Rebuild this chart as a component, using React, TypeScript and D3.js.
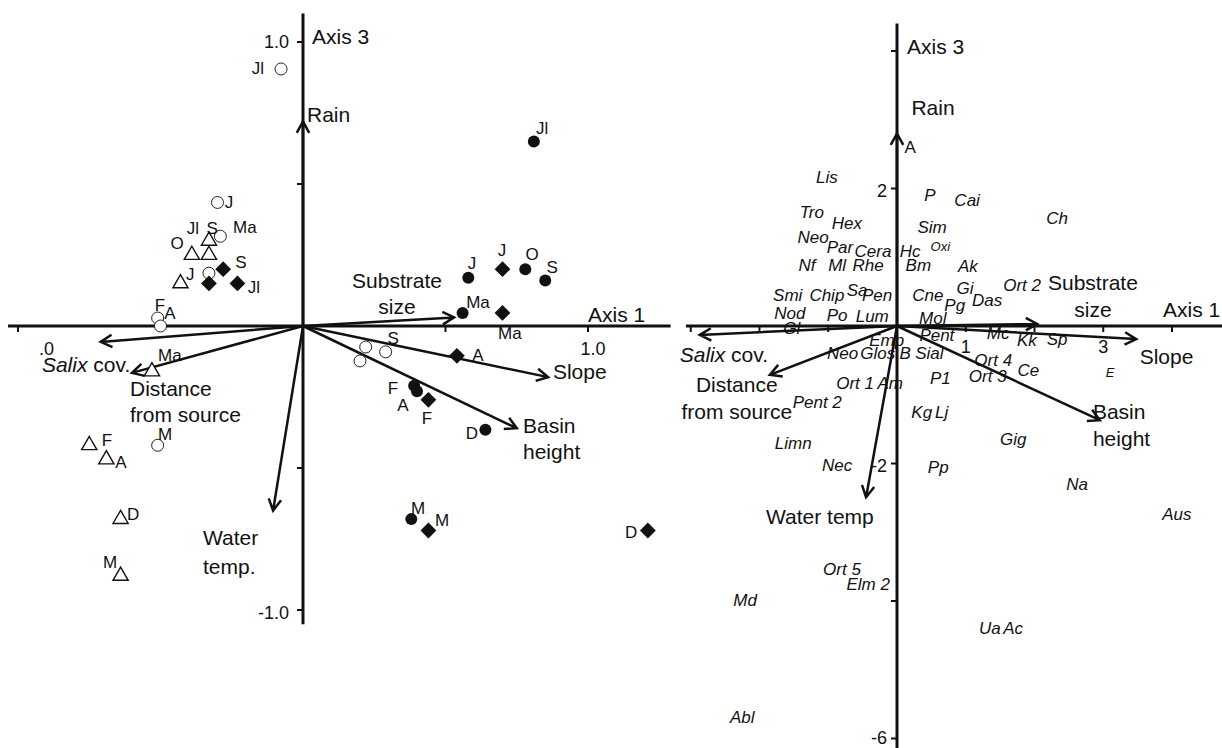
import React from 'react';
import * as d3 from 'd3';

// ---------- LEFT PANEL DATA (sample scores, CCA axis 1 vs axis 3) ----------
const leftOpenCircles = [
  { x: -0.077, y: 0.905 }, { x: -0.30, y: 0.435 }, { x: -0.29, y: 0.316 },
  { x: -0.33, y: 0.186 }, { x: -0.51, y: 0.028 }, { x: -0.50, y: 0.0 },
  { x: -0.51, y: -0.42 }, { x: 0.22, y: -0.074 }, { x: 0.29, y: -0.091 },
  { x: 0.20, y: -0.123 },
];
const leftTriangles = [
  { x: -0.33, y: 0.30 }, { x: -0.39, y: 0.25 }, { x: -0.33, y: 0.25 },
  { x: -0.43, y: 0.15 }, { x: -0.53, y: -0.16 }, { x: -0.75, y: -0.42 },
  { x: -0.69, y: -0.47 }, { x: -0.64, y: -0.68 }, { x: -0.64, y: -0.88 },
];
const leftDiamonds = [
  { x: -0.28, y: 0.20 }, { x: -0.33, y: 0.15 }, { x: -0.23, y: 0.15 },
  { x: 0.70, y: 0.20 }, { x: 0.70, y: 0.046 }, { x: 0.54, y: -0.105 },
  { x: 0.44, y: -0.26 }, { x: 0.44, y: -0.72 }, { x: 1.21, y: -0.72 },
];
const leftFilledCircles = [
  { x: 0.81, y: 0.65 }, { x: 0.58, y: 0.17 }, { x: 0.78, y: 0.20 },
  { x: 0.85, y: 0.16 }, { x: 0.56, y: 0.046 }, { x: 0.39, y: -0.21 },
  { x: 0.40, y: -0.23 }, { x: 0.64, y: -0.365 }, { x: 0.38, y: -0.68 },
];
const leftPointLabels = [
  { t: 'Jl', x: -0.158, y: 0.908 }, { t: 'J', x: -0.26, y: 0.437 },
  { t: 'Ma', x: -0.204, y: 0.349 }, { t: 'Jl', x: -0.386, y: 0.345 },
  { t: 'S', x: -0.319, y: 0.345 }, { t: 'O', x: -0.442, y: 0.292 },
  { t: 'S', x: -0.218, y: 0.225 }, { t: 'J', x: -0.396, y: 0.183 },
  { t: 'Jl', x: -0.172, y: 0.137 }, { t: 'F', x: -0.502, y: 0.074 },
  { t: 'A', x: -0.467, y: 0.046 }, { t: 'Ma', x: -0.467, y: -0.102 },
  { t: 'M', x: -0.484, y: -0.380 }, { t: 'F', x: -0.688, y: -0.401 },
  { t: 'A', x: -0.639, y: -0.479 }, { t: 'D', x: -0.596, y: -0.662 },
  { t: 'M', x: -0.677, y: -0.831 }, { t: 'S', x: 0.316, y: -0.042 },
  { t: 'Jl', x: 0.839, y: 0.697 }, { t: 'J', x: 0.593, y: 0.222 },
  { t: 'J', x: 0.698, y: 0.268 }, { t: 'O', x: 0.804, y: 0.254 },
  { t: 'S', x: 0.874, y: 0.208 }, { t: 'Ma', x: 0.614, y: 0.085 },
  { t: 'Ma', x: 0.726, y: -0.025 }, { t: 'A', x: 0.614, y: -0.102 },
  { t: 'F', x: 0.316, y: -0.218 }, { t: 'A', x: 0.351, y: -0.278 },
  { t: 'F', x: 0.435, y: -0.324 }, { t: 'D', x: 0.593, y: -0.377 },
  { t: 'M', x: 0.404, y: -0.641 }, { t: 'M', x: 0.488, y: -0.683 },
  { t: 'D', x: 1.151, y: -0.725 },
];
const leftArrows = [
  { name: 'Rain', x: 0, y: 0.72 },
  { name: 'Substrate size', x: 0.53, y: 0.03 },
  { name: 'Slope', x: 0.86, y: -0.18 },
  { name: 'Basin height', x: 0.75, y: -0.36 },
  { name: 'Water temp.', x: -0.105, y: -0.65 },
  { name: 'Distance from source', x: -0.60, y: -0.165 },
  { name: 'Salix cov.', x: -0.71, y: -0.056 },
];
const leftArrowLabels = [
  { lines: ['Rain'], x: 0.014, y: 0.743, anchor: 'start' },
  { lines: ['Substrate', 'size'], x: 0.33, y: 0.158, anchor: 'middle' },
  { lines: ['Slope'], x: 0.877, y: -0.162, anchor: 'start' },
  { lines: ['Basin', 'height'], x: 0.772, y: -0.352, anchor: 'start' },
  { lines: ['Water', 'temp.'], x: -0.351, y: -0.746, anchor: 'start' },
  { lines: ['Distance', 'from source'], x: -0.607, y: -0.222, anchor: 'start' },
  { lines: ['SALIX'], x: -0.916, y: -0.137, anchor: 'start' },
];
const leftYTicks = [-1, -0.5, 0.5, 1];
const leftXTicks = [-1, -0.5, 0.5, 1];
const leftYTickLabels = [{ v: 1, t: '1.0' }, { v: -1, t: '-1.0' }];
const leftXTickLabels = [{ v: 1, t: '1.0' }, { v: -0.9, t: '.0' }];

// ---------- RIGHT PANEL DATA (species scores) ----------
const rightSpecies = [
  { t: 'Lis', x: -1.02, y: 2.17 }, { t: 'P', x: 0.48, y: 1.91 },
  { t: 'Cai', x: 1.02, y: 1.83 }, { t: 'Ch', x: 2.33, y: 1.57 },
  { t: 'Tro', x: -1.24, y: 1.66 }, { t: 'Hex', x: -0.73, y: 1.50 },
  { t: 'Sim', x: 0.51, y: 1.44 }, { t: 'Neo', x: -1.22, y: 1.29 },
  { t: 'Par', x: -0.83, y: 1.15 }, { t: 'Cera', x: -0.35, y: 1.09 },
  { t: 'Hc', x: 0.19, y: 1.09 }, { t: 'Oxi', x: 0.63, y: 1.15, small: true },
  { t: 'Nf', x: -1.31, y: 0.89 }, { t: 'Ml', x: -0.87, y: 0.89 },
  { t: 'Rhe', x: -0.42, y: 0.89 }, { t: 'Bm', x: 0.31, y: 0.89 },
  { t: 'Ak', x: 1.03, y: 0.87 }, { t: 'Ort 2', x: 1.82, y: 0.60 },
  { t: 'Smi', x: -1.59, y: 0.45 }, { t: 'Chip', x: -1.02, y: 0.45 },
  { t: 'Sa', x: -0.58, y: 0.52 }, { t: 'Pen', x: -0.29, y: 0.45 },
  { t: 'Cne', x: 0.45, y: 0.45 }, { t: 'Gi', x: 0.99, y: 0.55 },
  { t: 'Das', x: 1.31, y: 0.38 }, { t: 'Pg', x: 0.84, y: 0.31 },
  { t: 'Nod', x: -1.56, y: 0.19 }, { t: 'Po', x: -0.87, y: 0.16 },
  { t: 'Lum', x: -0.36, y: 0.15 }, { t: 'Mol', x: 0.52, y: 0.12 },
  { t: 'Gl', x: -1.53, y: -0.03 }, { t: 'Emp', x: -0.15, y: -0.20 },
  { t: 'Pent', x: 0.58, y: -0.13 }, { t: 'Mc', x: 1.47, y: -0.10 },
  { t: 'Kk', x: 1.89, y: -0.20 }, { t: 'Sp', x: 2.33, y: -0.19 },
  { t: 'Neo', x: -0.79, y: -0.39 }, { t: 'Glos', x: -0.28, y: -0.39 },
  { t: 'B', x: 0.12, y: -0.39 }, { t: 'Sial', x: 0.47, y: -0.39 },
  { t: 'Ort 4', x: 1.40, y: -0.49 }, { t: 'Ce', x: 1.91, y: -0.64 },
  { t: 'Ort 3', x: 1.32, y: -0.73 }, { t: 'E', x: 3.10, y: -0.68, small: true },
  { t: 'Ort 1', x: -0.61, y: -0.83 }, { t: 'Am', x: -0.10, y: -0.83 },
  { t: 'P1', x: 0.63, y: -0.76 }, { t: 'Pent 2', x: -1.16, y: -1.11 },
  { t: 'Kg', x: 0.36, y: -1.25 }, { t: 'Lj', x: 0.65, y: -1.25 },
  { t: 'Gig', x: 1.69, y: -1.64 }, { t: 'Limn', x: -1.51, y: -1.70 },
  { t: 'Nec', x: -0.87, y: -2.02 }, { t: 'Pp', x: 0.60, y: -2.05 },
  { t: 'Na', x: 2.62, y: -2.30 }, { t: 'Aus', x: 4.07, y: -2.73 },
  { t: 'Ort 5', x: -0.80, y: -3.53 }, { t: 'Elm 2', x: -0.42, y: -3.75 },
  { t: 'Md', x: -2.21, y: -3.99 }, { t: 'Ua', x: 1.35, y: -4.39 },
  { t: 'Ac', x: 1.69, y: -4.39 }, { t: 'Abl', x: -2.25, y: -5.69 },
];
const rightSampleLabels = [{ t: 'A', x: 0.19, y: 2.6 }];
const rightArrows = [
  { name: 'Rain', x: 0, y: 2.80 },
  { name: 'Substrate size', x: 2.04, y: 0.03 },
  { name: 'Slope', x: 3.48, y: -0.19 },
  { name: 'Basin height', x: 2.95, y: -1.37 },
  { name: 'Water temp', x: -0.45, y: -2.49 },
  { name: 'Distance from source', x: -1.85, y: -0.71 },
  { name: 'Salix cov.', x: -2.87, y: -0.13 },
];
const rightArrowLabels = [
  { lines: ['Rain'], x: 0.21, y: 3.17, anchor: 'start' },
  { lines: ['Substrate', 'size'], x: 2.85, y: 0.625, anchor: 'middle' },
  { lines: ['Slope'], x: 3.53, y: -0.45, anchor: 'start' },
  { lines: ['Basin', 'height'], x: 2.85, y: -1.25, anchor: 'start' },
  { lines: ['Water temp'], x: -1.905, y: -2.78, anchor: 'start' },
  { lines: ['Distance', 'from source'], x: -2.33, y: -0.86, anchor: 'middle' },
  { lines: ['SALIX'], x: -3.16, y: -0.42, anchor: 'start' },
];
const rightYTicks = [-6, -4, -2, 2, 4];
const rightXTicks = [-3, -2, -1, 1, 2, 3, 4];
const rightYTickLabels = [{ v: 2, t: '2' }, { v: -2, t: '-2' }, { v: -6, t: '-6' }];
const rightXTickLabels = [{ v: 1, t: '1' }, { v: 3, t: '3' }];

const FONT = '"Liberation Sans", Arial, Helvetica, sans-serif';

function arrowPath(x0: number, y0: number, x1: number, y1: number, len = 13, ang = 0.5) {
  const a = Math.atan2(y1 - y0, x1 - x0);
  const h1x = x1 - len * Math.cos(a - ang), h1y = y1 - len * Math.sin(a - ang);
  const h2x = x1 - len * Math.cos(a + ang), h2y = y1 - len * Math.sin(a + ang);
  return `M${x0},${y0}L${x1},${y1}M${h1x},${h1y}L${x1},${y1}L${h2x},${h2y}`;
}

function ArrowLabel({ lab, sx, sy, lh }: any) {
  const isSalix = lab.lines[0] === 'SALIX';
  return (
    <text x={sx(lab.x)} y={sy(lab.y)} fontSize={21} textAnchor={lab.anchor} fill="#111">
      {isSalix ? (
        <>
          <tspan fontStyle="italic" dy="0.35em">Salix</tspan>
          <tspan> cov.</tspan>
        </>
      ) : (
        lab.lines.map((l: string, i: number) => (
          <tspan key={i} x={sx(lab.x)} dy={i === 0 ? '0.35em' : lh}>{l}</tspan>
        ))
      )}
    </text>
  );
}

export default function App() {
  const W = 1222, H = 748;
  const xL = d3.scaleLinear().domain([-1, 1]).range([18, 588]);
  const yL = d3.scaleLinear().domain([-1, 1]).range([610, 42]);
  const xR = d3.scaleLinear().domain([-3, 4]).range([690.75, 1172]);
  const yR = d3.scaleLinear().domain([-6, 4]).range([738.5, 51]);

  const circ = d3.symbol().type(d3.symbolCircle).size(Math.PI * 36)();
  const tri = d3.symbol().type(d3.symbolTriangle).size(100)();
  const dia = d3.symbol().type(d3.symbolSquare).size(125)();

  return (
    <svg width={W} height={H} style={{ position: 'absolute', left: 0, top: 0, background: '#fff' }}
      fontFamily={FONT}>
      <rect width={W} height={H} fill="#fff" />
      {/* ===== LEFT PANEL ===== */}
      <g>
        <line x1={xL(0)} x2={xL(0)} y1={yL(1.1)} y2={yL(-1.05)} stroke="#111" strokeWidth={3} />
        <line x1={xL(-1.035)} x2={xL(1.29)} y1={yL(0)} y2={yL(0)} stroke="#111" strokeWidth={3} />
        {leftYTicks.map((v) => (
          <line key={'ly' + v} x1={xL(0) - 6} x2={xL(0)} y1={yL(v)} y2={yL(v)} stroke="#111" strokeWidth={2} />
        ))}
        {leftXTicks.map((v) => (
          <line key={'lx' + v} x1={xL(v)} x2={xL(v)} y1={yL(0)} y2={yL(0) + 6} stroke="#111" strokeWidth={2} />
        ))}
        {leftYTickLabels.map((d) => (
          <text key={'lyt' + d.v} x={xL(0) - 14} y={yL(d.v) + (d.v < 0 ? 3 : 0)} dy="0.35em" textAnchor="end" fontSize={18} fill="#111">{d.t}</text>
        ))}
        {leftXTickLabels.map((d) => (
          <text key={'lxt' + d.v} x={xL(d.v) + (d.v > 0 ? 5 : 0)} y={yL(0) + 23} dy="0.35em" textAnchor="middle" fontSize={18} fill="#111">{d.t}</text>
        ))}
        <text x={xL(0) + 9} y={37} dy="0.35em" fontSize={21} fill="#111">Axis 3</text>
        <text x={588} y={315} dy="0.35em" fontSize={21} fill="#111">Axis 1</text>

        {leftArrows.map((a) => (
          <path key={a.name} d={arrowPath(xL(0), yL(0), xL(a.x), yL(a.y))} fill="none" stroke="#111" strokeWidth={2.5} />
        ))}
        {leftArrowLabels.map((l, i) => (
          <ArrowLabel key={i} lab={l} sx={xL} sy={yL} lh={l.lines[0] === 'Water' ? 29 : 26} />
        ))}

        {leftOpenCircles.map((p, i) => (
          <path key={'oc' + i} d={circ!} transform={`translate(${xL(p.x)},${yL(p.y)})`} fill="#fff" stroke="#222" strokeWidth={1} />
        ))}
        {leftTriangles.map((p, i) => (
          <path key={'tr' + i} d={tri!} transform={`translate(${xL(p.x)},${yL(p.y)})`} fill="#fff" stroke="#111" strokeWidth={1.4} />
        ))}
        {leftFilledCircles.map((p, i) => (
          <path key={'fc' + i} d={circ!} transform={`translate(${xL(p.x)},${yL(p.y)})`} fill="#111" />
        ))}
        {leftDiamonds.map((p, i) => (
          <path key={'di' + i} d={dia!} transform={`translate(${xL(p.x)},${yL(p.y)}) rotate(45)`} fill="#111" />
        ))}
        {leftPointLabels.map((l, i) => (
          <text key={'pl' + i} x={xL(l.x)} y={yL(l.y)} dy="0.35em" textAnchor="middle" fontSize={17} fill="#111">{l.t}</text>
        ))}
      </g>

      {/* ===== RIGHT PANEL ===== */}
      <g>
        <line x1={xR(0)} x2={xR(0)} y1={yR(4.4)} y2={H} stroke="#111" strokeWidth={3} />
        <line x1={xR(-3.07)} x2={W} y1={yR(0)} y2={yR(0)} stroke="#111" strokeWidth={3} />
        {rightYTicks.map((v) => (
          <line key={'ry' + v} x1={xR(0) - 6} x2={xR(0)} y1={yR(v)} y2={yR(v)} stroke="#111" strokeWidth={2} />
        ))}
        {rightXTicks.map((v) => (
          <line key={'rx' + v} x1={xR(v)} x2={xR(v)} y1={yR(0)} y2={yR(0) + 6} stroke="#111" strokeWidth={2} />
        ))}
        {rightYTickLabels.map((d) => (
          <text key={'ryt' + d.v} x={xR(0) - 10} y={yR(d.v) + (d.v === -6 ? -1 : 2)} dy="0.35em" textAnchor="end" fontSize={18} fill="#111">{d.t}</text>
        ))}
        {rightXTickLabels.map((d) => (
          <text key={'rxt' + d.v} x={xR(d.v)} y={yR(0) + 21} dy="0.35em" textAnchor="middle" fontSize={18} fill="#111">{d.t}</text>
        ))}
        <text x={xR(0) + 10} y={47} dy="0.35em" fontSize={21} fill="#111">Axis 3</text>
        <text x={1163} y={310} dy="0.35em" fontSize={21} fill="#111">Axis 1</text>

        {rightArrows.map((a) => (
          <path key={a.name} d={arrowPath(xR(0), yR(0), xR(a.x), yR(a.y))} fill="none" stroke="#111" strokeWidth={2.5} />
        ))}
        {rightArrowLabels.map((l, i) => (
          <ArrowLabel key={i} lab={l} sx={xR} sy={yR} lh={27} />
        ))}
        {rightSpecies.map((s, i) => (
          <text key={'sp' + i} x={xR(s.x)} y={yR(s.y)} dy="0.35em" textAnchor="middle"
            fontSize={s.small ? 13 : 17} fontStyle="italic" fill="#111">{s.t}</text>
        ))}
        {rightSampleLabels.map((s, i) => (
          <text key={'rs' + i} x={xR(s.x)} y={yR(s.y)} dy="0.35em" textAnchor="middle" fontSize={17} fill="#111">{s.t}</text>
        ))}
      </g>
    </svg>
  );
}
